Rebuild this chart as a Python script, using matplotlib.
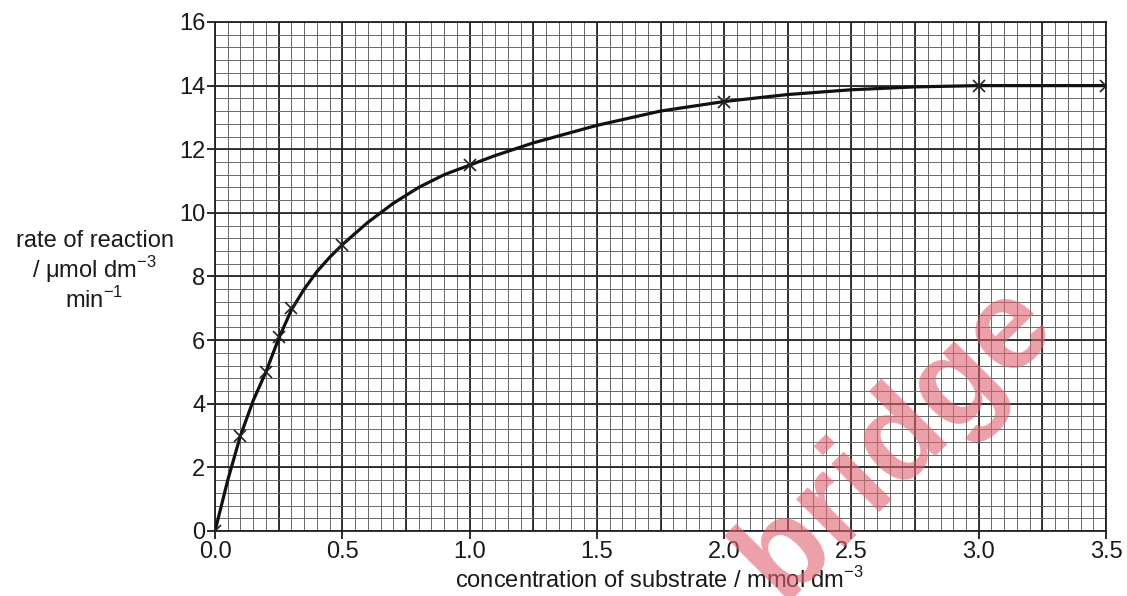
import matplotlib
matplotlib.use("Agg")
import matplotlib.pyplot as plt
import numpy as np

plt.rcParams["font.family"] = ["Liberation Sans", "DejaVu Sans"]

# measured points (crosses)
conc = [0.0, 0.1, 0.2, 0.25, 0.3, 0.5, 1.0, 2.0, 3.0, 3.5]
rate = [0.0, 3.0, 5.0, 6.1, 7.0, 9.0, 11.5, 13.5, 14.0, 14.0]

# hand-drawn best-fit curve
curve_x = [0.0, 0.05, 0.1, 0.15, 0.2, 0.25, 0.3, 0.35, 0.4, 0.45, 0.5, 0.6, 0.7, 0.8, 0.9,
           1.0, 1.1, 1.25, 1.5, 1.75, 2.0, 2.25, 2.5, 2.75, 3.0, 3.25, 3.5]
curve_y = [0.0, 1.6, 3.0, 4.1, 5.0, 6.05, 6.95, 7.6, 8.15, 8.6, 9.0, 9.7, 10.3, 10.8, 11.2,
           11.5, 11.8, 12.2, 12.75, 13.2, 13.5, 13.72, 13.87, 13.96, 14.0, 14.0, 14.0]

fig = plt.figure(figsize=(11.27, 5.96), dpi=100)
ax = fig.add_axes([0.1908, 0.1091, 0.7906, 0.854])

ax.set_xlim(0, 3.5)
ax.set_ylim(0, 16)

# graph paper
for x in np.arange(0, 3.5001, 0.05):
    ax.axvline(x, color="#6a6a6a", lw=0.7, zorder=0)
for x in np.arange(0, 3.5001, 0.25):
    ax.axvline(x, color="#262626", lw=1.3, zorder=0)
for y in np.arange(0, 16.001, 0.4):
    ax.axhline(y, color="#6a6a6a", lw=0.7, zorder=0)
for y in np.arange(0, 16.001, 2):
    ax.axhline(y, color="#262626", lw=1.3, zorder=0)

ax.plot(curve_x, curve_y, color="#111111", lw=2.3, zorder=3)
ax.plot(conc, rate, linestyle="none", marker="x", color="#222222",
        markersize=9, mew=1.2, zorder=4)

ax.set_xticks(np.arange(0, 3.51, 0.5))
ax.set_xticklabels([f"{v:.1f}" for v in np.arange(0, 3.51, 0.5)])
ax.set_yticks(np.arange(0, 17, 2))
ax.tick_params(labelsize=17, length=6, width=1.3, pad=1, colors="#1a1a1a")

for s in ax.spines.values():
    s.set_color("#222222")
    s.set_linewidth(1.3)

fig.text(0.5856, 0.027, "concentration of substrate / mmol dm$^{\\mathregular{-3}}$",
         ha="center", va="center", fontsize=17, color="#1a1a1a")
fig.text(0.084, 0.545, "rate of reaction\n/ \u03bcmol dm$^{\\mathregular{-3}}$\nmin$^{\\mathregular{-1}}$",
         ha="center", va="center", fontsize=17, color="#1a1a1a", linespacing=1.1)

# watermark
fig.text(0.795, 0.26, "bridge", fontsize=92, fontweight="bold", color="#e06070",
         alpha=0.6, rotation=45, ha="center", va="center", zorder=10)

fig.savefig("out.png", dpi=100)
